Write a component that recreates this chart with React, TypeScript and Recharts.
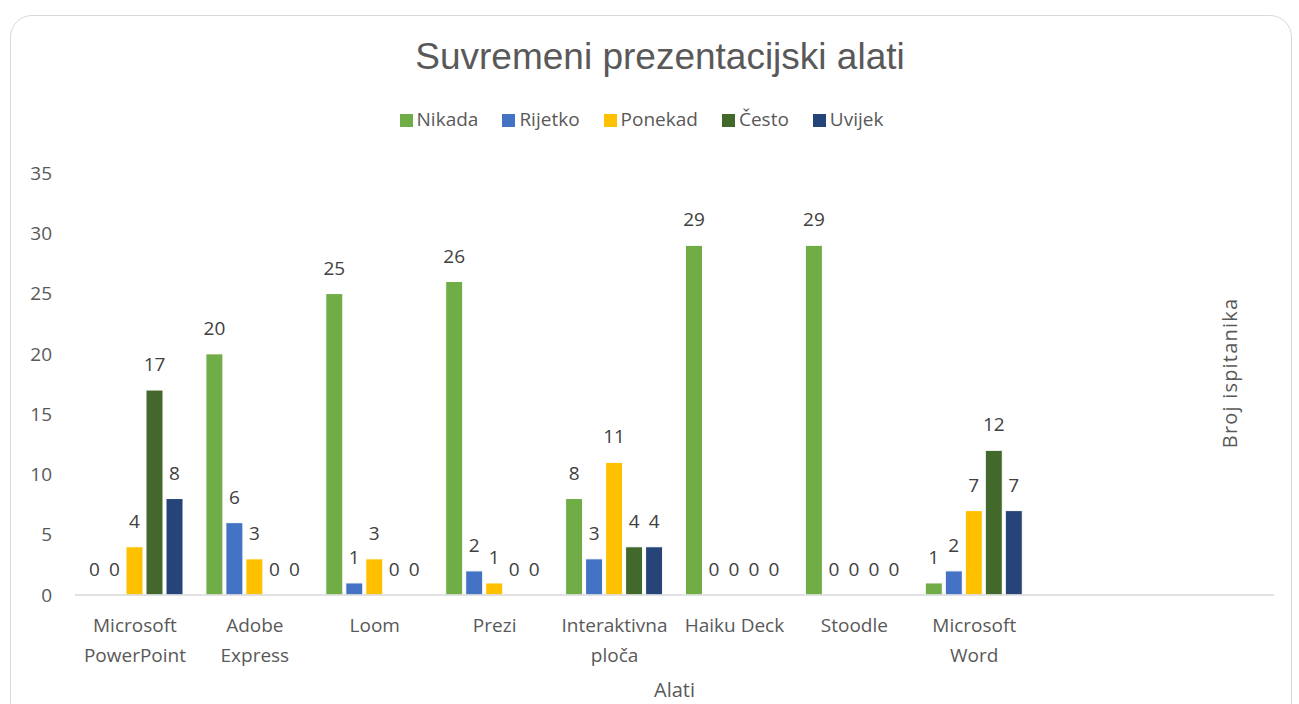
import { Bar, BarChart, Legend, XAxis, YAxis, Label } from 'recharts'

const categories = ['Microsoft PowerPoint', 'Adobe Express', 'Loom', 'Prezi', 'Interaktivna ploča', 'Haiku Deck', 'Stoodle', 'Microsoft Word', '', '']
const nikada = [0, 20, 25, 26, 8, 29, 29, 1]
const rijetko = [0, 6, 1, 2, 3, 0, 0, 2]
const ponekad = [4, 3, 3, 1, 11, 0, 0, 7]
const cesto = [17, 0, 0, 0, 4, 0, 0, 12]
const uvijek = [8, 0, 0, 0, 4, 0, 0, 7]
const yTicks = [0, 5, 10, 15, 20, 25, 30, 35]

const series = [
  { key: 'nikada', name: 'Nikada', color: '#70AD47', values: nikada },
  { key: 'rijetko', name: 'Rijetko', color: '#4472C4', values: rijetko },
  { key: 'ponekad', name: 'Ponekad', color: '#FFC000', values: ponekad },
  { key: 'cesto', name: 'Često', color: '#43682B', values: cesto },
  { key: 'uvijek', name: 'Uvijek', color: '#264478', values: uvijek },
]

const data = categories.map((name, i) => {
  const row: Record<string, string | number | undefined> = { name }
  series.forEach(s => { row[s.key] = s.values[i] })
  return row
})

const FONT = '"Open Sans", sans-serif'
const TEXT = '#595959'

const wrapLabel = (text: string) => {
  if (text.length <= 10) return [text]
  const parts = text.split(' ')
  return parts.length > 1 ? [parts[0], parts.slice(1).join(' ')] : [text]
}

const CategoryTick = ({ x, y, payload }: any) => {
  const lines = wrapLabel(String(payload.value ?? ''))
  return (
    <text x={x} y={y} textAnchor="middle" fill={TEXT} fontSize={19} fontFamily={FONT}>
      {lines.map((l, i) => (
        <tspan key={i} x={x} dy={i === 0 ? 29 : 30}>{l}</tspan>
      ))}
    </text>
  )
}

// bar with its value label drawn above it (also for zero-height bars)
const makeShape = (key: string) => (p: any) => {
  const value = p.payload ? p.payload[key] : undefined
  if (value === undefined || value === null) return <g />
  const h = Math.max(0, p.height)
  return (
    <g>
      {h > 0 && <rect x={p.x} y={p.y} width={p.width} height={h} fill={p.fill} stroke="#fff" strokeWidth={1} />}
      <text x={p.x + p.width / 2} y={p.y - 19} textAnchor="middle" fill="#404040" fontSize={19} fontFamily={FONT}>
        {value}
      </text>
    </g>
  )
}

const App = () => {
  return (
    <div style={{ position: 'absolute', left: 0, top: 0, width: 1299, height: 704, background: '#fff', overflow: 'hidden' }}>
      <div style={{ position: 'absolute', left: 10, top: 15, width: 1280, height: 720, border: '1.5px solid #d9d9d9', borderRadius: 22 }} />
      <div style={{ position: 'absolute', left: 0, top: 36, width: 1320, textAlign: 'center', fontFamily: '"Liberation Sans", Arial, sans-serif', fontSize: 37, lineHeight: 'normal', color: TEXT }}>
        Suvremeni prezentacijski alati
      </div>
      <BarChart
        width={1299}
        height={704}
        data={data}
        margin={{ top: 147, right: 25, bottom: 7, left: 0 }}
        barSize={17}
        barGap={3}
        style={{ position: 'absolute', left: 0, top: 0 }}
      >
        <Legend
          verticalAlign="top"
          align="center"
          iconType="square"
          iconSize={13}
          itemSorter={null}
          wrapperStyle={{ top: 106, left: 4, width: 1299, fontFamily: FONT, fontSize: 19 }}
          formatter={(v: string) => <span style={{ color: TEXT, marginRight: 14 }}>{v}</span>}
        />
        <XAxis
          dataKey="name"
          height={102}
          interval={0}
          tickLine={false}
          axisLine={{ stroke: '#d9d9d9', strokeWidth: 1.5 }}
          tick={<CategoryTick />}
        >
          <Label value="Alati" position="insideBottom" offset={0} fill={TEXT} fontSize={20} fontFamily={FONT} />
        </XAxis>
        <YAxis
          width={75}
          domain={[0, 35]}
          ticks={yTicks}
          axisLine={false}
          tickLine={false}
          tickSize={0}
          tickMargin={23}
          tick={{ fill: TEXT, fontSize: 19, fontFamily: FONT }}
        >
          <Label
            content={() => (
              <text x={1237} y={373} transform="rotate(-90 1237 373)" textAnchor="middle" fill={TEXT} fontSize={20} letterSpacing={1.2} fontFamily={FONT}>
                Broj ispitanika
              </text>
            )}
          />
        </YAxis>
        {series.map(s => (
          <Bar key={s.key} dataKey={s.key} name={s.name} fill={s.color} isAnimationActive={false} shape={makeShape(s.key)} />
        ))}
      </BarChart>
    </div>
  )
}

export default App
